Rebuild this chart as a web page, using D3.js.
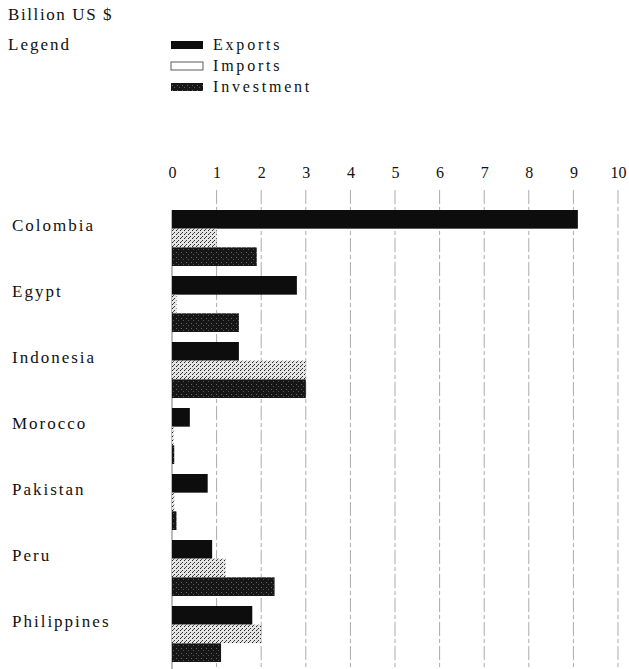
<!DOCTYPE html>
<html>
<head>
<meta charset="utf-8">
<script src="https://cdn.jsdelivr.net/npm/d3@7"></script>
<style>
  body { margin: 0; background: #fff; }
  text { font-family: "Liberation Serif", "DejaVu Serif", serif; fill: #111; }
</style>
</head>
<body>
<div id="chart"></div>
<script>
var countries = ["Colombia", "Egypt", "Indonesia", "Morocco", "Pakistan", "Peru", "Philippines"];
var series = ["Exports", "Imports", "Investment"];
var exportsVals = [9.1, 2.8, 1.5, 0.4, 0.8, 0.9, 1.8];
var importsVals = [1.0, 0.1, 3.0, 0.03, 0.05, 1.2, 2.0];
var investmentVals = [1.9, 1.5, 3.0, 0.05, 0.1, 2.3, 1.1];
var ticks = [0, 1, 2, 3, 4, 5, 6, 7, 8, 9, 10];

var width = 629, height = 669;

var svg = d3.select("#chart").append("svg")
    .attr("width", width)
    .attr("height", height);

// speckle texture for imports / investment
var defs = svg.append("defs");
var pImp = defs.append("pattern")
    .attr("id", "imp")
    .attr("width", 4).attr("height", 4)
    .attr("patternUnits", "userSpaceOnUse");
pImp.append("rect").attr("width", 4).attr("height", 4).attr("fill", "#e4e4e4");
pImp.append("rect").attr("x", 0).attr("y", 0).attr("width", 1).attr("height", 1).attr("fill", "#222");
pImp.append("rect").attr("x", 2).attr("y", 2).attr("width", 1).attr("height", 1).attr("fill", "#333");
pImp.append("rect").attr("x", 1).attr("y", 3).attr("width", 1).attr("height", 1).attr("fill", "#555");

var pInv = defs.append("pattern")
    .attr("id", "inv")
    .attr("width", 5).attr("height", 5)
    .attr("patternUnits", "userSpaceOnUse");
pInv.append("rect").attr("width", 5).attr("height", 5).attr("fill", "#161616");
pInv.append("rect").attr("x", 1).attr("y", 2).attr("width", 1).attr("height", 1).attr("fill", "#666");
pInv.append("rect").attr("x", 3).attr("y", 4).attr("width", 1).attr("height", 1).attr("fill", "#555");

var fills = { Exports: "#0d0d0d", Imports: "url(#imp)", Investment: "url(#inv)" };

var x = d3.scaleLinear().domain([0, 10]).range([172, 618]);

var y = d3.scaleBand()
    .domain(countries)
    .range([210, 662])
    .paddingInner(10 / 66)
    .paddingOuter(0);

var y1 = d3.scaleBand()
    .domain(series)
    .range([0, y.bandwidth()]);

// header
svg.append("text").attr("x", 8).attr("y", 20)
    .style("font-size", "17px").style("letter-spacing", "1.6px")
    .text("Billion US $");
svg.append("text").attr("x", 8).attr("y", 50)
    .style("font-size", "17px").style("letter-spacing", "2px")
    .text("Legend");

// legend
var leg = svg.selectAll(".leg").data(series).enter()
    .append("g").attr("class", "leg")
    .attr("transform", function(d, i) { return "translate(171," + (41 + i * 21) + ")"; });
leg.append("rect")
    .attr("width", 32).attr("height", 8)
    .attr("fill", function(d) { return d == "Imports" ? "#fff" : fills[d]; })
    .attr("stroke", function(d) { return d == "Imports" ? "#333" : "none"; })
    .attr("stroke-width", 0.8);
leg.append("text")
    .attr("x", 42).attr("y", 9)
    .style("font-size", "16px").style("letter-spacing", "2.8px")
    .text(function(d) { return d; });

// grid lines
svg.selectAll(".grid").data(ticks.slice(1)).enter()
    .append("line").attr("class", "grid")
    .attr("x1", function(d) { return x(d); })
    .attr("x2", function(d) { return x(d); })
    .attr("y1", 190).attr("y2", height)
    .attr("stroke", "#aaa")
    .attr("stroke-width", 1)
    .attr("stroke-dasharray", "14,3,4,3");

svg.append("line")
    .attr("x1", x(0)).attr("x2", x(0))
    .attr("y1", 210).attr("y2", height)
    .attr("stroke", "#777").attr("stroke-width", 1);

// top axis labels
var axis = d3.axisTop(x).tickValues(ticks).tickSize(0).tickPadding(0);
var ax = svg.append("g").attr("transform", "translate(0,178)").call(axis);
ax.select(".domain").remove();
ax.selectAll("text")
    .attr("y", 0).attr("dy", 0)
    .style("font-family", "'Liberation Serif', serif")
    .style("font-size", "16px")
    .attr("fill", "#111");

// country labels
svg.selectAll(".country").data(countries).enter()
    .append("text").attr("class", "country")
    .attr("x", 12)
    .attr("y", function(d) { return y(d) + 21; })
    .style("font-size", "17px").style("letter-spacing", "2px")
    .text(function(d) { return d; });

// bars
var rows = countries.map(function(c, i) {
    return { country: c, vals: [
        { key: "Exports", v: exportsVals[i] },
        { key: "Imports", v: importsVals[i] },
        { key: "Investment", v: investmentVals[i] }
    ] };
});

var groups = svg.selectAll(".grp").data(rows).enter()
    .append("g").attr("class", "grp")
    .attr("transform", function(d) { return "translate(0," + y(d.country) + ")"; });

groups.selectAll("rect").data(function(d) { return d.vals; }).enter()
    .append("rect")
    .attr("x", x(0))
    .attr("y", function(d) { return y1(d.key); })
    .attr("width", function(d) { return Math.max(x(d.v) - x(0), 1.5); })
    .attr("height", y1.bandwidth())
    .attr("fill", function(d) { return fills[d.key]; });
</script>
</body>
</html>
